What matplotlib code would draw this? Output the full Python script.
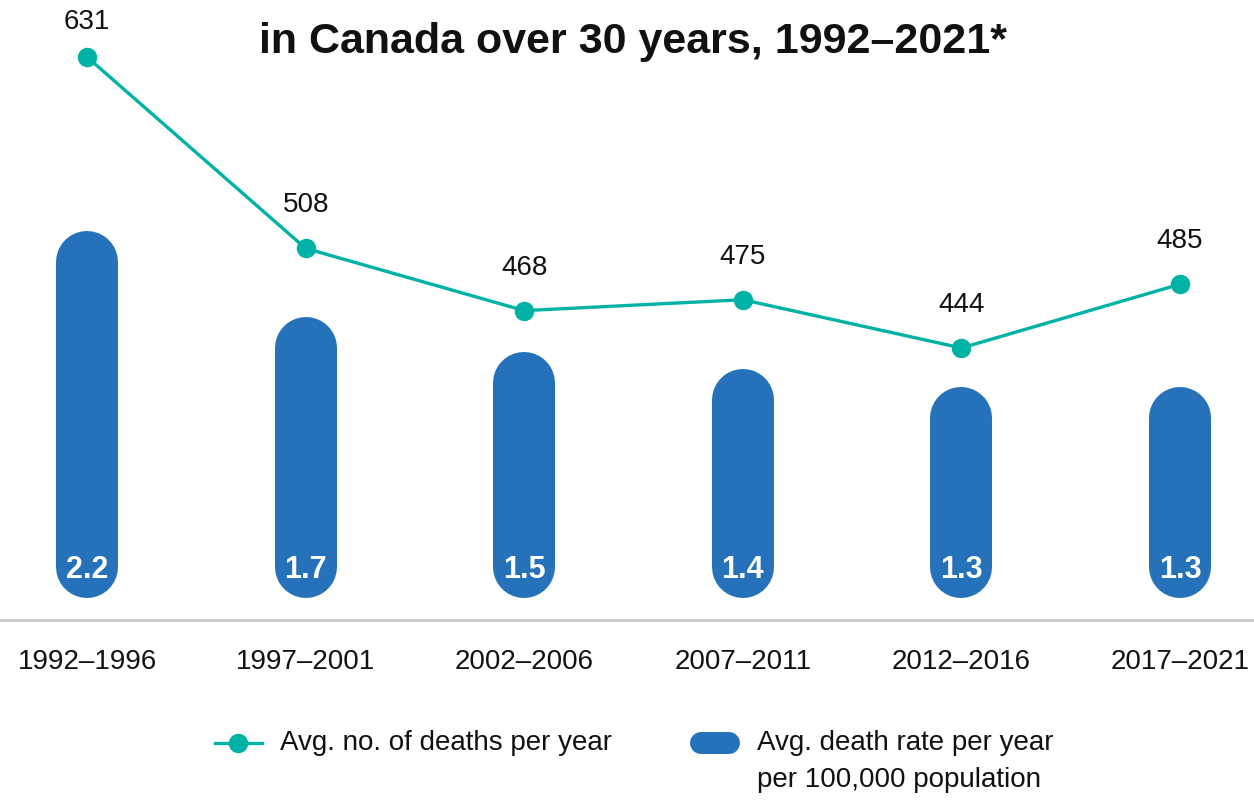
import matplotlib.pyplot as plt
from matplotlib.lines import Line2D

periods = ['1992–1996', '1997–2001', '2002–2006', '2007–2011', '2012–2016', '2017–2021']
death_rate = [2.2, 1.7, 1.5, 1.4, 1.3, 1.3]
deaths = [631, 508, 468, 475, 444, 485]

BLUE = '#2571ba'
TEAL = '#00b2a5'
TEXT = '#111111'

plt.rcParams['font.family'] = ['Liberation Sans', 'DejaVu Sans']

fig = plt.figure(figsize=(12.54, 8), dpi=100)
ax = fig.add_axes([0, 0.225, 1, 0.775])
ax.set_xlim(-0.398, 5.338)
ax.set_ylim(-0.046, 3.531)

# capsule-shaped bars: thick lines with round caps
bar_lw = 62 * 72 / 100
r = 31 / 173.3
base = 0.081
for i, v in enumerate(death_rate):
    ax.plot([i, i], [base + r, v - r], color=BLUE, lw=bar_lw,
            solid_capstyle='round', zorder=2)
    ax.text(i, 0.245, f'{v:.1f}', color='white', fontsize=22, fontweight='bold',
            ha='center', va='center', zorder=3)

ax.set_xticks(range(len(periods)))
ax.set_xticklabels(periods, fontsize=20, color=TEXT)
ax.tick_params(axis='x', length=0, pad=21)
ax.set_yticks([])
for s in ['top', 'left', 'right']:
    ax.spines[s].set_visible(False)
ax.spines['bottom'].set_color('#c8c8c8')
ax.spines['bottom'].set_linewidth(2)

ax2 = ax.twinx()
ax2.set_ylim(269.2, 667.6)
ax2.set_yticks([])
for s in ax2.spines.values():
    s.set_visible(False)
ax2.plot(range(len(deaths)), deaths, color=TEAL, lw=2.4, marker='o',
         markersize=13, zorder=4)
for i, d in enumerate(deaths):
    # the highest label sits closer so it stays inside the figure
    off = 25 if d == max(deaths) else 31
    ax2.annotate(str(d), (i, d), xytext=(0, off), textcoords='offset points',
                 ha='center', va='center', fontsize=20, color=TEXT)

fig.text(0.505, 0.948, 'in Canada over 30 years, 1992–2021*', ha='center',
         va='center', fontsize=31, fontweight='bold', color=TEXT)

# legend, drawn by hand in figure coordinates
fy = 1 - 743 / 800
fig.add_artist(Line2D([215 / 1254, 262 / 1254], [fy, fy], color=TEAL, lw=2.4,
                      transform=fig.transFigure))
fig.add_artist(Line2D([238 / 1254], [fy], color=TEAL, marker='o', markersize=13,
                      transform=fig.transFigure))
fig.text(280 / 1254, fy, 'Avg. no. of deaths per year', fontsize=20,
         color=TEXT, va='center')
fig.add_artist(Line2D([701 / 1254, 729 / 1254], [fy, fy], color=BLUE,
                      lw=22 * 72 / 100, solid_capstyle='round',
                      transform=fig.transFigure))
fig.text(757 / 1254, fy, 'Avg. death rate per year', fontsize=20,
         color=TEXT, va='center')
fig.text(757 / 1254, 1 - 780 / 800, 'per 100,000 population', fontsize=20,
         color=TEXT, va='center')

fig.savefig('out.png', dpi=100)
